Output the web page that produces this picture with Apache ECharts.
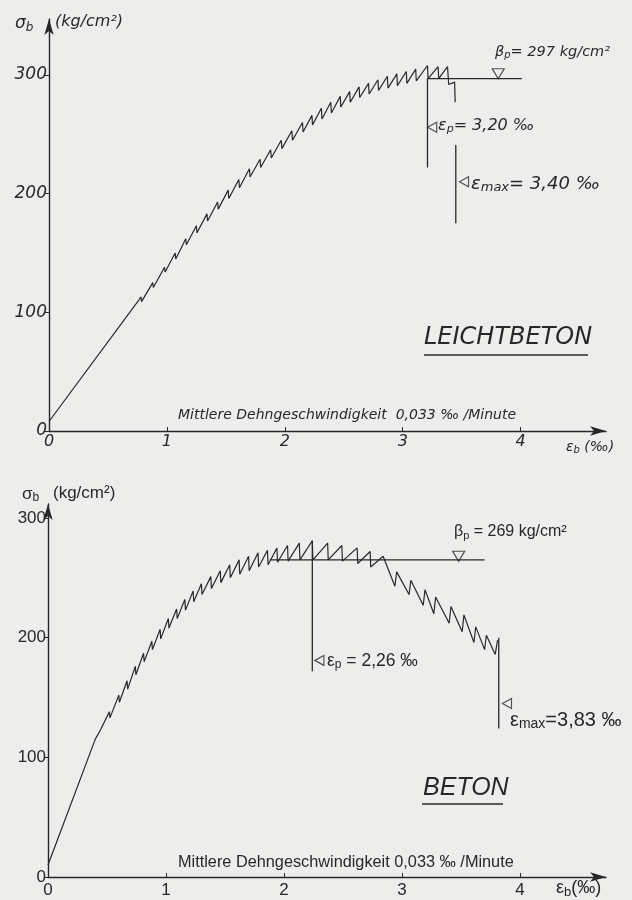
<!DOCTYPE html>
<html><head><meta charset="utf-8">
<script src="https://cdn.jsdelivr.net/npm/echarts@6/dist/echarts.min.js"></script>
<style>html,body{margin:0;padding:0;background:#ededeb}#c{width:632px;height:900px}</style>
</head><body><div id="c"></div>
<script>
// ---- tick labels ----
const xTicks = [0, 1, 2, 3, 4];
const yTicks = [0, 100, 200, 300];
const xTickLabels = ['0', '1', '2', '3', '4'];
const yTickLabels = ['0', '100', '200', '300'];

// ---- LEICHTBETON (top) : strain ‰, stress kg/cm² ----
const leichtCurve = [
  [0,8],[0.76,110],
  [0.78,113],[0.785,109],[0.88,125],[0.885,121],[0.98,138],[0.985,134],
  [1.07,150],[1.075,145],[1.16,162],[1.165,157],[1.25,173],[1.255,167],
  [1.34,183],[1.345,177],[1.43,193],[1.435,187],[1.52,203],[1.525,196],
  [1.61,212],[1.615,205],[1.70,221],[1.705,214],[1.79,229],[1.795,222],
  [1.88,237],[1.885,230],[1.97,245],[1.975,238],[2.06,253],[2.065,245],
  [2.15,260],[2.155,252],[2.23,266],[2.235,258],[2.31,272],[2.315,263],
  [2.39,277],[2.395,268],[2.47,282],[2.475,273],[2.55,286],[2.555,277],
  [2.63,290],[2.635,281],[2.71,293],[2.715,284],[2.79,296],[2.795,287],
  [2.87,299],[2.875,289],[2.95,301],[2.955,291],[3.03,303],[3.035,293],
  [3.11,305],[3.115,295],[3.21,308],[3.215,297],[3.30,307],[3.305,297],
  [3.38,307],[3.39,292],[3.44,294],[3.445,277]
];
const leichtBetaP = [[3.21,297],[4.01,297]];
const leichtEpsP = [[3.21,297],[3.21,222]];
const leichtEpsMax = [[3.45,241],[3.45,175]];
const leichtBetaMark = [[3.81,301]];
const leichtEpsPMark = [[3.25,256]];
const leichtEpsMaxMark = [[3.52,210]];

// ---- BETON (bottom) ----
const betonCurve = [
  [0,10],[0.40,115],[0.44,122],
  [0.52,138],[0.525,133],[0.60,152],[0.605,146],[0.67,164],[0.675,157],
  [0.74,176],[0.745,169],[0.81,187],[0.815,180],[0.88,197],[0.885,190],
  [0.95,207],[0.955,199],[1.02,216],[1.025,208],[1.09,224],[1.095,216],
  [1.16,232],[1.165,223],[1.23,239],[1.235,230],[1.30,245],[1.305,236],
  [1.38,251],[1.385,241],[1.46,256],[1.465,246],[1.54,261],[1.545,250],
  [1.62,265],[1.625,253],[1.70,268],[1.705,256],[1.78,271],[1.785,259],
  [1.86,273],[1.865,261],[1.94,275],[1.945,263],[2.03,277],[2.035,264],
  [2.13,279],[2.135,265],[2.24,281],[2.245,265],[2.37,279],[2.375,265],
  [2.49,277],[2.495,264],[2.62,275],[2.625,262],[2.73,272],[2.735,259],
  [2.84,268],
  [2.94,243],[2.955,255],[3.06,236],[3.075,248],[3.18,227],[3.195,240],
  [3.27,220],[3.285,234],[3.40,212],[3.415,226],[3.51,205],[3.525,219],
  [3.61,196],[3.625,209],[3.70,190],[3.715,202],[3.79,186],[3.81,198]
];
const betonBetaP = [[1.88,265],[3.70,265]];
const betonEpsP = [[2.24,281],[2.24,172]];
const betonEpsMax = [[3.82,200],[3.82,124]];
const betonBetaMark = [[3.48,268]];
const betonEpsPMark = [[2.30,181]];
const betonEpsMaxMark = [[3.89,145]];

const INK = '#282828';
const chart = echarts.init(document.getElementById('c'), null, {renderer: 'canvas'});

function xAxisDef(gi, max, fam, italic, margin, fs) {
  return {
    type: 'value', gridIndex: gi, min: 0, max: max,
    axisLine: {lineStyle: {color: INK, width: 1.4}, symbol: ['none', 'arrow'], symbolSize: [7, 16]},
    axisTick: {show: true, inside: true, length: 4, lineStyle: {color: INK}, customValues: xTicks},
    axisLabel: {color: INK, fontSize: fs, fontFamily: fam, fontStyle: italic ? 'italic' : 'normal', margin: margin,
      customValues: xTicks, formatter: v => xTickLabels[xTicks.indexOf(v)]},
    splitLine: {show: false}
  };
}
function yAxisDef(gi, max, fam, italic, fs) {
  return {
    type: 'value', gridIndex: gi, min: 0, max: max,
    axisLine: {show: true, lineStyle: {color: INK, width: 1.4}, symbol: ['none', 'arrow'], symbolSize: [7, 16]},
    axisTick: {show: true, length: 4, lineStyle: {color: INK}, customValues: yTicks},
    axisLabel: {color: INK, fontSize: fs, fontFamily: fam, fontStyle: italic ? 'italic' : 'normal', margin: 2,
      customValues: yTicks, formatter: v => yTickLabels[yTicks.indexOf(v)]},
    splitLine: {show: false}
  };
}
function lineS(gi, data, w) {
  return {type: 'line', xAxisIndex: gi, yAxisIndex: gi, data: data, showSymbol: false, symbol: 'none',
    lineStyle: {color: INK, width: w || 1.2}, animation: false, silent: true};
}
function triS(gi, data, rot, size) {
  return {type: 'scatter', xAxisIndex: gi, yAxisIndex: gi, data: data, symbol: 'triangle', symbolRotate: rot,
    symbolSize: size, itemStyle: {color: 'rgba(0,0,0,0)', borderColor: INK, borderWidth: 1.2}, animation: false, silent: true};
}

const TF = 'DejaVu Sans';
const BF = 'Liberation Sans';

function txt(x, y, text, size, fam, italic, rich, align) {
  return {type: 'text', x: x, y: y, style: {text: text, fill: INK, font: (italic ? 'italic ' : '') + size + 'px "' + fam + '"',
    textVerticalAlign: 'middle', textAlign: align || 'left', rich: rich}};
}
function richSub(size, fam, italic) {
  return {
    n: {fontSize: size, fontFamily: fam, fontStyle: italic ? 'italic' : 'normal', fill: INK},
    s: {fontSize: Math.round(size * 0.7), fontFamily: fam, fontStyle: italic ? 'italic' : 'normal', fill: INK, padding: [size * 0.45, 0, 0, 0]}
  };
}

const option = {
  backgroundColor: '#ededeb',
  animation: false,
  grid: [
    {left: 49, right: 26, top: 19, bottom: 469},
    {left: 48, right: 26, top: 504, bottom: 23}
  ],
  xAxis: [xAxisDef(0, 4.724, TF, true, 3, 16), xAxisDef(1, 4.729, BF, false, 5, 17)],
  yAxis: [yAxisDef(0, 347.2, TF, true, 17), yAxisDef(1, 311.7, BF, false, 17)],
  series: [
    lineS(0, leichtCurve), lineS(0, leichtBetaP, 1.3), lineS(0, leichtEpsP, 1.3), lineS(0, leichtEpsMax, 1.3),
    triS(0, leichtBetaMark, 180, [12, 10]), triS(0, leichtEpsPMark, 90, [10, 9]), triS(0, leichtEpsMaxMark, 90, [10, 9]),
    lineS(1, betonCurve), lineS(1, betonBetaP, 1.3), lineS(1, betonEpsP, 1.3), lineS(1, betonEpsMax, 1.3),
    triS(1, betonBetaMark, 180, [12, 10]), triS(1, betonEpsPMark, 90, [10, 9]), triS(1, betonEpsMaxMark, 90, [10, 9])
  ],
  graphic: [
    // top chart texts
    txt(15, 24, '{n|σ}{s|b}', 17, TF, true, richSub(17, TF, true)),
    txt(55, 22, '(kg/cm²)', 16, TF, true),
    txt(495, 52, '{n|β}{s|p}{n|= 297 kg/cm²}', 14.5, TF, true, richSub(14.5, TF, true)),
    txt(438, 126, '{n|ε}{s|p}{n|= 3,20 ‰}', 16, TF, true, richSub(16, TF, true)),
    txt(471, 184, '{n|ε}{s|max}{n|= 3,40 ‰}', 18, TF, true, richSub(18, TF, true)),
    txt(424, 338, 'LEICHTBETON', 24, TF, true),
    {type: 'line', shape: {x1: 424, y1: 355, x2: 588, y2: 355}, style: {stroke: INK, lineWidth: 1.6}},
    txt(178, 415, 'Mittlere Dehngeschwindigkeit  0,033 ‰ /Minute', 14, TF, true),
    txt(566, 447, '{n|ε}{s|b}{n| (‰)}', 14, TF, true, richSub(14, TF, true)),
    // bottom chart texts
    txt(22, 494, '{n|σ}{s|b}', 17, BF, false, richSub(17, BF, false)),
    txt(53, 493, '(kg/cm²)', 17, BF, false),
    txt(454, 532, '{n|β}{s|p}{n| = 269 kg/cm²}', 16, BF, false, richSub(16, BF, false)),
    txt(327, 661, '{n|ε}{s|p}{n| = 2,26 ‰}', 17.5, BF, false, richSub(17.5, BF, false)),
    txt(510, 720, '{n|ε}{s|max}{n|=3,83 ‰}', 20, BF, false, richSub(20, BF, false)),
    txt(423, 788, 'BETON', 25, BF, true),
    {type: 'line', shape: {x1: 422, y1: 804, x2: 503, y2: 804}, style: {stroke: INK, lineWidth: 1.6}},
    txt(178, 863, 'Mittlere Dehngeschwindigkeit 0,033 ‰ /Minute', 16.3, BF, false),
    txt(556, 888, '{n|ε}{s|b}{n|(‰)}', 18, BF, false, richSub(18, BF, false))
  ]
};
chart.setOption(option);
</script></body></html>
